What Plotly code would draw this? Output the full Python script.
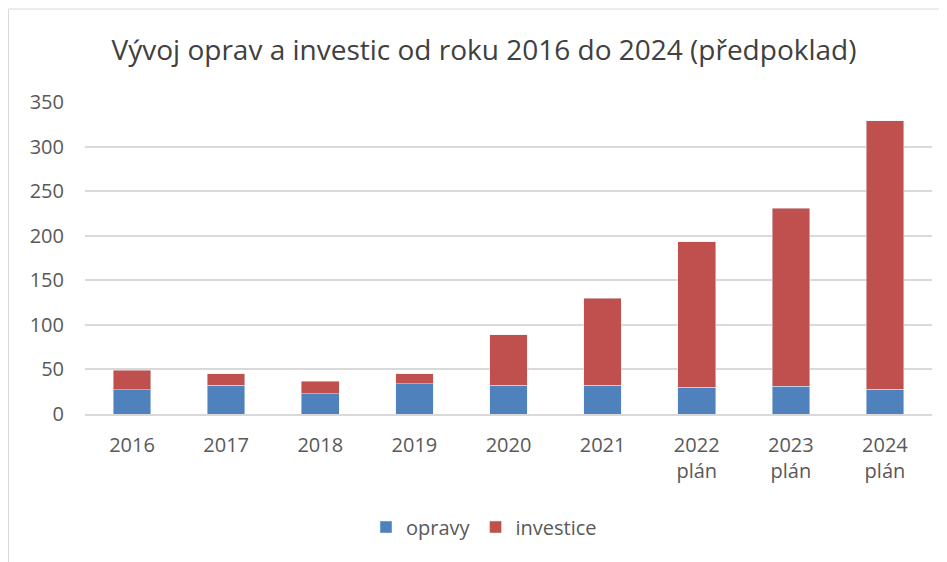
import plotly.graph_objects as go

categories = ["2016", "2017", "2018", "2019", "2020", "2021", "2022<br>plán", "2023<br>plán", "2024<br>plán"]
opravy = [27, 32, 23, 34, 32, 32, 30, 31, 28]
investice = [22, 13, 14, 11, 57, 98, 163, 200, 301]
y_ticks = [0, 50, 100, 150, 200, 250, 300, 350]

font_fam = "Open Sans, Liberation Sans, sans-serif"

fig = go.Figure()
fig.add_trace(go.Bar(x=categories, y=opravy, name="opravy", marker=dict(color="#4f81bd")))
fig.add_trace(go.Bar(x=categories, y=investice, name="investice", marker=dict(color="#c0504d")))

# page body has an 8px margin, so figure coordinates = reference pixels - 8
OFF = 8
W, H = 947 - OFF, 562 - OFF
L, R, T, B = 85 - OFF, 15, 102 - OFF, 148
pw, ph = W - L - R, H - T - B
base = H - B

fig.update_layout(
    width=W, height=H, autosize=False,
    barmode="stack", bargap=0.6,
    paper_bgcolor="white", plot_bgcolor="white",
    margin=dict(l=L, r=R, t=T, b=B, autoexpand=False),
    title=dict(text="Vývoj oprav a investic od roku 2016 do 2024 (předpoklad)",
               x=((484 - OFF) - L) / pw, xref="paper", xanchor="center", y=1 - (50 - OFF) / H, yref="container",
               yanchor="middle", font=dict(family=font_fam, size=28, color="#404040")),
    font=dict(family=font_fam, size=20, color="#595959"),
    legend=dict(orientation="h", x=((484 - OFF) - L) / pw, xref="paper", xanchor="center",
                y=-((527 - OFF) - base) / ph, yanchor="middle",
                font=dict(size=20, color="#595959"), traceorder="normal"),
    showlegend=True,
)
fig.update_yaxes(range=[0, 350], tickvals=y_ticks, showgrid=True, gridcolor="#d9d9d9", gridwidth=1.5,
                 zeroline=False, ticks="", ticklabelstandoff=20, showline=False)
fig.update_xaxes(showline=True, linecolor="#d9d9d9", linewidth=1.5, ticks="", ticklabelstandoff=12,
                 tickangle=0, automargin=False)

fig.add_shape(type="rect", xref="paper", yref="paper",
              x0=(0.5 - L) / pw, x1=(W + 5 - L) / pw, y0=-(H + 10 - base) / ph, y1=(base - 1) / ph,
              line=dict(color="#d9d9d9", width=1), fillcolor="rgba(0,0,0,0)", layer="below")

fig.write_html("out.html", config={"displayModeBar": False})
